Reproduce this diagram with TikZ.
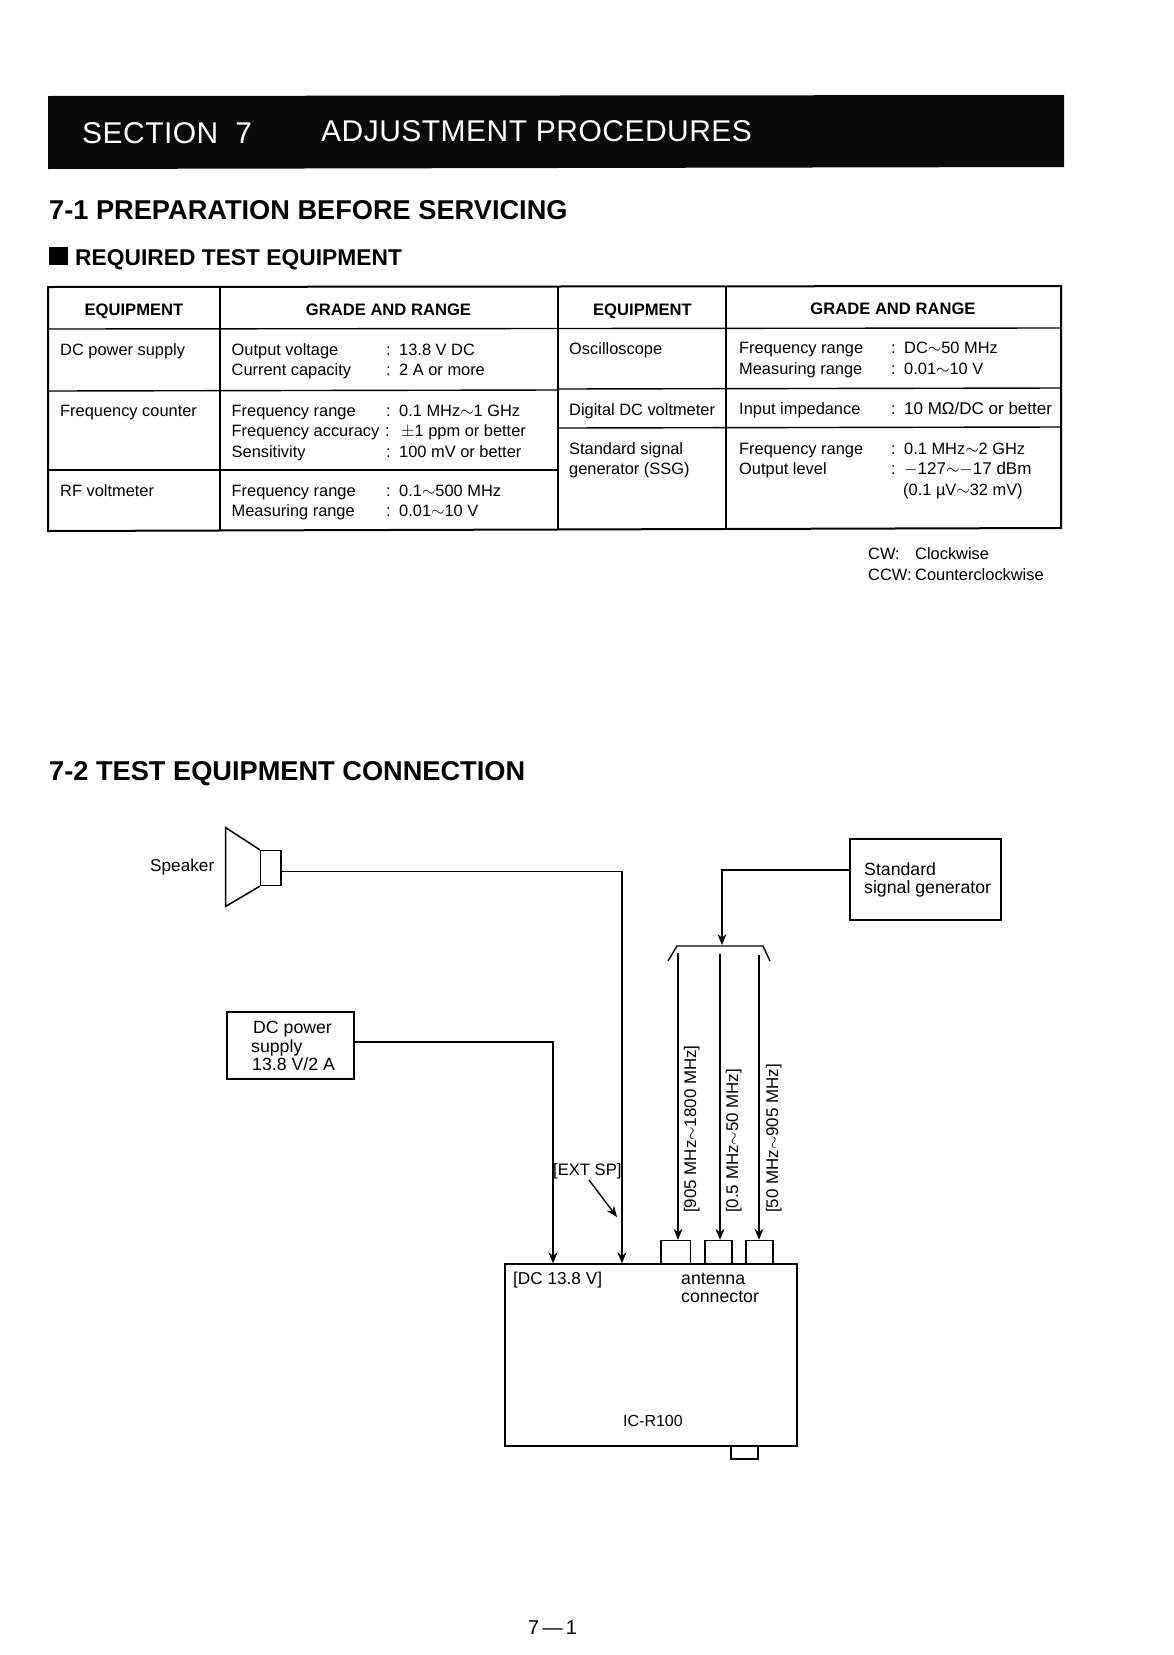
\documentclass[tikz,border=0pt]{standalone}
\usepackage{fontspec}
\setmainfont{Liberation Sans}
\usetikzlibrary{arrows.meta}
\newcommand{\fsz}[1]{\fontsize{#1}{#1}\selectfont}
\tikzset{
 x=1pt,y=-1pt,
 txt/.style={inner sep=0,anchor=base west,font=\fsz{16.4}},
 hdr/.style={inner sep=0,anchor=base,font=\fsz{16.6}\bfseries},
 dia/.style={inner sep=0,anchor=base west,font=\fsz{17.2}},
 big/.style={inner sep=0,anchor=base west,font=\fsz{17.7}},
 rot/.style={inner sep=0,anchor=base west,rotate=90,font=\fsz{16.9}},
 head/.style={inner sep=0,anchor=base west,font=\fsz{27.2}\bfseries},
 sub/.style={inner sep=0,anchor=base west,font=\fsz{22.8}\bfseries},
 bar/.style={inner sep=0,anchor=base west,text=white,font=\fsz{30}\addfontfeature{LetterSpace=1.6}},
 box/.style={draw,line width=1.5pt,inner sep=0,minimum width=#1},
 outer/.style={line width=2pt},
 inner/.style={line width=1.4pt},
 wire/.style={line width=1.4pt},
 arr/.style={line width=1.4pt,-{Stealth[length=11pt,width=9pt]}},
}
\begin{document}
\begin{tikzpicture}
\useasboundingbox[fill=white] (0,0) rectangle (1173,1655);
% title bar
\fill[black!96] (48,96) -- (1064,95) -- (1064,167) -- (48,169) -- cycle;
\node[bar] (t0) at (82,143) {SECTION\hspace{17pt}7};
\node[bar] (t0b) at (321,141) {ADJUSTMENT PROCEDURES};
% headings
\node[head] (h1) at (49,219) {7-1 PREPARATION BEFORE SERVICING};
\node[sub] (h2) at (49,265) {\rule{19pt}{18pt}\hspace{7pt}REQUIRED TEST EQUIPMENT};
\node[head] (h3) at (49,780) {7-2 TEST EQUIPMENT CONNECTION};
% table
\draw[outer] (48,287) -- (1061,286) -- (1061,528) -- (48,531) -- cycle;
\draw[inner] (220,287) -- (220,531);
\draw[outer] (558,287) -- (558,530);
\draw[inner] (726,287) -- (726,529);
\draw[inner] (48,329) -- (1061,328);
\draw[inner] (48,391) -- (558,390);
\draw[inner] (558,389) -- (1061,388);
\draw[inner] (558,428) -- (1061,427);
\draw[inner] (48,470) -- (558,470);
% table header
\node[hdr] (a1) at (134,315) {EQUIPMENT};
\node[hdr] (a2) at (388.5,315) {GRADE AND RANGE};
\node[hdr] (a3) at (642.5,315) {EQUIPMENT};
\node[hdr] (a4) at (893,314) {GRADE AND RANGE};
% left table
\node[txt] (l1) at (60,355) {DC power supply};
\node[txt] (l2) at (231.5,355) {Output voltage};
\node[txt] (l3) at (386,355) {:};
\node[txt] (l4) at (399,355) {13.8 V DC};
\node[txt] (l5) at (231.5,375) {Current capacity};
\node[txt] (l6) at (386,375) {:};
\node[txt] (l7) at (399,375) {2 A or more};
\node[txt] (l8) at (60,416) {Frequency counter};
\node[txt] (l9) at (231.5,416) {Frequency range};
\node[txt] (l10) at (386,416) {:};
\node[txt] (l11) at (399,416) {0.1 MHz$\sim$1 GHz};
\node[txt] (l12) at (231.5,436) {Frequency accuracy};
\node[txt] (l13) at (385,436) {:};
\node[txt] (l14) at (401,436) {$\pm$1 ppm or better};
\node[txt] (l15) at (231.5,457) {Sensitivity};
\node[txt] (l16) at (386,457) {:};
\node[txt] (l17) at (399,457) {100 mV or better};
\node[txt] (l18) at (60,496) {RF voltmeter};
\node[txt] (l19) at (231.5,496) {Frequency range};
\node[txt] (l20) at (386,496) {:};
\node[txt] (l21) at (399,496) {0.1$\sim$500 MHz};
\node[txt] (l22) at (231.5,516) {Measuring range};
\node[txt] (l23) at (386,516) {:};
\node[txt] (l24) at (399,516) {0.01$\sim$10 V};
% right table
\node[txt] (r1) at (569,354) {Oscilloscope};
\node[txt] (r2) at (739,353) {Frequency range};
\node[txt] (r3) at (891,353) {:};
\node[txt] (r4) at (904,353) {DC$\sim$50 MHz};
\node[txt] (r5) at (739,374) {Measuring range};
\node[txt] (r6) at (891,374) {:};
\node[txt] (r7) at (904,374) {0.01$\sim$10 V};
\node[txt] (r8) at (569,415) {Digital DC voltmeter};
\node[txt] (r9) at (739,414) {Input impedance};
\node[txt] (r10) at (891,414) {:};
\node[txt,font=\fsz{17}] (r11) at (904,414) {10 MΩ/DC or better};
\node[txt] (r12) at (569,454) {Standard signal};
\node[txt] (r13) at (569,474) {generator (SSG)};
\node[txt] (r14) at (739,454) {Frequency range};
\node[txt] (r15) at (891,454) {:};
\node[txt] (r16) at (904,454) {0.1 MHz$\sim$2 GHz};
\node[txt] (r17) at (739,474) {Output level};
\node[txt] (r18) at (891,474) {:};
\node[txt,font=\fsz{17}] (r19) at (904,474) {$-$127$\sim$$-$17 dBm};
\node[txt] (r20) at (903,495) {(0.1 µV$\sim$32 mV)};
\node[txt] (c1) at (868,559) {CW:};
\node[txt] (c2) at (915,559) {Clockwise};
\node[txt] (c3) at (868,580) {CCW:};
\node[txt] (c4) at (915,580) {Counterclockwise};
% equipment
\node[box=127pt,minimum height=67pt] (dc) at (290.5,1045.5) {};
\node[box=151pt,minimum height=81pt] (ssg) at (925.5,879.5) {};
\node[box=292pt,minimum height=182pt] (rig) at (651,1355) {};
\node[box=29.5pt,minimum height=24pt] (ant1) at (675.75,1252.5) {};
\node[box=27pt,minimum height=24pt] (ant2) at (718.5,1252.5) {};
\node[box=27pt,minimum height=24pt] (ant3) at (759.5,1252.5) {};
\node[box=27pt,minimum height=13pt] (plug) at (744.5,1452.5) {};
\node[box=20.5pt,minimum height=35pt] (spk) at (270.75,868) {};
\draw[line width=1.5pt] (spk.north west) -- (225.5,827.5) -- (225.5,906.5) -- (spk.south west);
% box texts
\node[dia] (s0) at (150,871) {Speaker};
\node[big] (d1) at (253,1033) {DC power};
\node[big] (d2) at (251,1052) {supply};
\node[big] (d3) at (252,1070) {13.8 V/2 A};
\node[big] (g1) at (864,875) {Standard};
\node[big] (g2) at (864,893) {signal generator};
\node[dia] (i1) at (513,1284) {[DC 13.8 V]};
\node[big] (i2) at (681,1284) {antenna};
\node[big] (i3) at (681,1302) {connector};
\node[txt,font=\fsz{16}] (i4) at (623,1426) {IC-R100};
\node[txt,font=\fsz{16.6}] (e1) at (553,1175) {[EXT SP]};
\node[rot] (v1) at (696,1213) {[905 MHz$\sim$1800 MHz]};
\node[rot] (v2) at (738,1213) {[0.5 MHz$\sim$50 MHz]};
\node[rot] (v3) at (778,1213) {[50 MHz$\sim$905 MHz]};
\node[inner sep=0,anchor=base west,font=\fsz{20}] (pg) at (528,1634) {7\,---\,1};
% wires
\coordinate (spkc) at (622,871.5);
\coordinate (dcc) at (553,1042);
\coordinate (ssgc) at (722,870);
\coordinate (bk1) at (668,961);
\coordinate (bk2) at (677,946);
\coordinate (bk3) at (763,946);
\coordinate (bk4) at (770,961);
\coordinate (f1) at (678,953);
\coordinate (f2) at (720,954);
\coordinate (f3) at (759,955);
\coordinate (ex1) at (589,1180);
\coordinate (ex2) at (617,1217);
\draw[wire] (bk1) -- (bk2) -- (bk3) -- (bk4);
\draw[arr] (spk.east |- spkc) -- (spkc) -- (spkc |- rig.north);
\draw[arr] (dc.east |- dcc) -- (dcc) -- (dcc |- rig.north);
\draw[arr] (ssg.west |- ssgc) -- (ssgc) -- ([yshift=1pt]ssgc |- bk3);
\draw[arr] (f1) -- (f1 |- ant1.north);
\draw[arr] (f2) -- (f2 |- ant2.north);
\draw[arr] (f3) -- (f3 |- ant3.north);
\draw[arr] (ex1) -- (ex2);
\end{tikzpicture}
\end{document}
